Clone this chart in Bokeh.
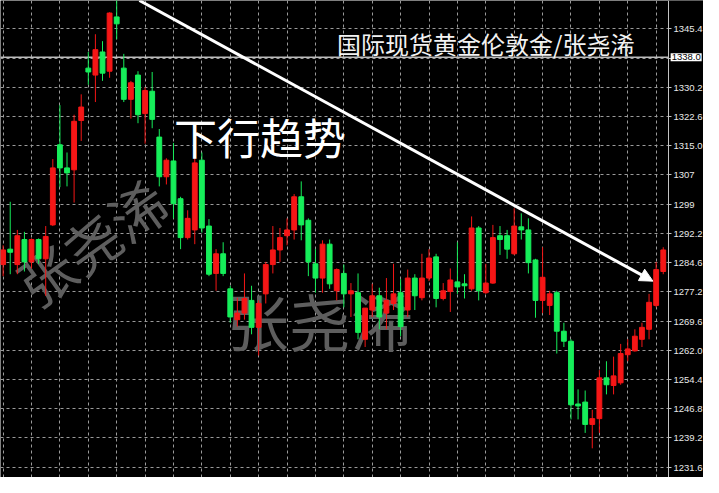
import numpy as np
from bokeh.plotting import figure
from bokeh.models import (Range1d, FixedTicker, Span, Label, Arrow, NormalHead,
                          ColumnDataSource, BoxAnnotation)
from bokeh.core.properties import value
from bokeh.embed import file_html
from bokeh.resources import INLINE

# ---- data ----
opens = [1284.2, 1288.2, 1284.2, 1290.7, 1284.9, 1290.7, 1285.7, 1294.5, 1315.3, 1309.3,
         1308.8, 1321.6, 1335.2, 1333.4, 1339.4, 1334.4, 1348.5, 1335.2, 1327.1, 1333.4,
         1323.4, 1329.2, 1317.3, 1307.0, 1311.1, 1301.3, 1291.2, 1293.2, 1311.3, 1294.2,
         1281.9, 1287.0, 1277.9, 1269.9, 1271.6, 1274.9, 1267.9, 1276.6, 1284.2, 1288.0,
         1291.7, 1293.2, 1301.8, 1295.7, 1284.4, 1280.7, 1289.5, 1277.4, 1281.9, 1276.6,
         1276.9, 1264.8, 1272.4, 1276.1, 1271.6, 1274.1, 1276.9, 1272.4, 1280.7, 1275.6,
         1280.7, 1286.2, 1275.4, 1277.2, 1279.7, 1279.2, 1277.9, 1293.7, 1276.9, 1279.4,
         1291.7, 1291.7, 1287.0, 1294.0, 1293.2, 1285.4, 1274.9, 1273.6, 1276.9, 1266.9,
         1264.3, 1248.0, 1248.5, 1242.7, 1244.2, 1254.8, 1252.8, 1253.5, 1260.8, 1261.8,
         1264.8, 1267.4, 1273.6, 1282.4]
highs = [1289.2, 1300.5, 1293.2, 1292.7, 1291.0, 1291.0, 1294.2, 1311.6, 1325.6, 1313.3,
         1323.1, 1328.4, 1339.4, 1344.0, 1342.2, 1349.7, 1354.0, 1338.9, 1331.9, 1334.4,
         1330.2, 1334.2, 1319.4, 1311.8, 1315.8, 1301.8, 1298.3, 1311.8, 1313.3, 1296.0,
         1288.2, 1290.0, 1278.7, 1275.6, 1281.9, 1278.7, 1274.9, 1284.9, 1294.2, 1293.7,
         1296.2, 1302.5, 1305.8, 1296.2, 1288.2, 1290.5, 1290.7, 1283.2, 1284.2, 1279.4,
         1281.9, 1272.9, 1279.2, 1278.2, 1280.7, 1284.4, 1280.4, 1282.9, 1281.7, 1287.0,
         1288.2, 1287.0, 1279.4, 1283.2, 1290.0, 1281.7, 1296.7, 1294.2, 1284.4, 1294.5,
         1294.2, 1293.2, 1298.8, 1297.5, 1296.2, 1285.7, 1288.7, 1277.4, 1277.4, 1269.1,
         1264.8, 1251.8, 1251.5, 1246.5, 1256.8, 1259.1, 1260.3, 1263.6, 1264.8, 1267.4,
         1269.1, 1276.6, 1284.9, 1288.7]
lows = [1281.2, 1281.7, 1281.7, 1282.4, 1283.2, 1284.4, 1276.1, 1294.2, 1304.3, 1304.5,
        1300.3, 1316.3, 1330.9, 1326.4, 1331.9, 1332.7, 1342.7, 1326.4, 1322.1, 1320.9,
        1315.6, 1319.6, 1304.5, 1305.0, 1296.2, 1288.2, 1290.7, 1289.5, 1292.5, 1281.2,
        1277.4, 1281.2, 1269.1, 1268.1, 1269.9, 1266.1, 1260.6, 1274.1, 1281.9, 1284.9,
        1289.2, 1290.7, 1290.5, 1281.2, 1276.9, 1276.9, 1277.9, 1274.9, 1273.1, 1270.6,
        1264.8, 1262.8, 1270.6, 1267.4, 1267.4, 1272.4, 1265.6, 1270.6, 1272.4, 1274.9,
        1279.9, 1273.1, 1274.9, 1271.9, 1276.6, 1275.4, 1277.4, 1274.9, 1276.6, 1279.2,
        1286.7, 1285.7, 1286.7, 1290.7, 1281.9, 1270.4, 1271.6, 1271.1, 1261.1, 1262.8,
        1244.0, 1244.0, 1240.5, 1236.5, 1240.5, 1250.5, 1250.5, 1253.0, 1259.1, 1261.6,
        1262.8, 1264.8, 1273.1, 1281.7]
closes = [1288.0, 1287.4, 1291.7, 1284.9, 1290.7, 1285.7, 1291.5, 1309.3, 1309.3, 1308.0,
          1321.4, 1325.1, 1334.2, 1340.0, 1333.9, 1349.5, 1346.7, 1327.1, 1331.4, 1323.1,
          1329.4, 1321.9, 1307.0, 1311.3, 1300.0, 1291.2, 1296.2, 1310.6, 1293.7, 1281.7,
          1287.0, 1281.9, 1270.6, 1271.6, 1275.4, 1267.9, 1274.1, 1284.2, 1288.0, 1291.2,
          1293.2, 1301.8, 1294.5, 1284.9, 1280.7, 1289.5, 1279.2, 1282.9, 1276.6, 1277.4,
          1266.6, 1272.9, 1276.1, 1270.6, 1274.9, 1276.6, 1268.1, 1280.7, 1276.1, 1280.7,
          1285.9, 1275.4, 1277.4, 1280.2, 1278.4, 1278.7, 1293.7, 1277.4, 1279.4, 1291.2,
          1290.7, 1288.2, 1294.2, 1293.2, 1284.7, 1274.9, 1280.9, 1276.6, 1266.9, 1264.3,
          1247.8, 1247.5, 1242.7, 1244.2, 1254.8, 1253.0, 1255.3, 1261.1, 1262.3, 1265.6,
          1267.9, 1274.4, 1282.9, 1288.0]

tick_labels = ["1231.6", "1239.2", "1246.8", "1254.4", "1262.0", "1269.6", "1277.2", "1284.6",
               "1292.2", "1299", "1307", "1315.0", "1322.6", "1330.2", "1338.0", "1345.4"]
tick_low, tick_high = 1231.6, 1345.4
marker_price = 1338.0
marker_label = "1338.0"

title_text = "国际现货黄金伦敦金/张尧浠"
trend_text = "下行趋势"
watermark_text = "张尧浠"

trend_start = (19.2, 1352.76)
trend_end = (91.55, 1279.9)

# ---- styling ----
RED = "#f51616"
GREEN = "#16ee5a"
GRID = "#9a9a9a"
AXIS = "#c4c4c4"

n = len(opens)
idx = np.arange(n)
o = np.array(opens)
c = np.array(closes)
colors = [RED if cc >= oo else GREEN for oo, cc in zip(opens, closes)]
src = ColumnDataSource(dict(x=idx, h=highs, l=lows, top=np.maximum(o, c),
                            bottom=np.minimum(o, c), color=colors))

x_lo, axis_x, x_hi = -0.37, 93.74, 98.67
p = figure(width=703, height=477,
           x_range=Range1d(x_lo, x_hi), y_range=Range1d(1228.92, 1352.76),
           x_axis_location=None, y_axis_location="right",
           output_backend="svg", toolbar_location=None,
           background_fill_color="black", border_fill_color="black",
           outline_line_color=None,
           min_border_left=0, min_border_top=0, min_border_bottom=0, min_border_right=0)

# grids
p.xgrid.ticker = FixedTicker(ticks=list(range(0, n, 4)))
p.xgrid.grid_line_color = GRID
p.xgrid.grid_line_dash = "3 3"
p.xgrid.grid_line_width = 1
tick_pos = list(np.linspace(tick_low, tick_high, len(tick_labels)))
p.yaxis.ticker = FixedTicker(ticks=tick_pos)
overrides = {}
for pos, lab in zip(tick_pos, tick_labels):
    overrides[pos] = " " if lab == marker_label else lab
p.yaxis.major_label_overrides = overrides
p.ygrid.grid_line_color = GRID
p.ygrid.grid_line_dash = "3 3"
p.ygrid.grid_line_width = 1

ax = p.yaxis[0]
ax.fixed_location = axis_x
ax.axis_line_color = AXIS
ax.major_tick_line_color = AXIS
ax.major_tick_out = 3
ax.major_tick_in = 0
ax.minor_tick_out = 0
ax.minor_tick_in = 0
ax.major_label_text_color = "#e8e8e8"
ax.major_label_text_font = "Liberation Sans"
ax.major_label_text_font_size = "9.5px"
ax.major_label_standoff = 2

# horizontal price line
p.add_layout(Span(location=marker_price, dimension="width", line_color="#bcbcbc",
                  line_width=1.5, level="underlay"))
# plain black strip where the price scale sits
p.add_layout(BoxAnnotation(left=axis_x, fill_color="black", fill_alpha=1.0,
                           line_color=None, level="underlay"))

# watermarks
p.text(x=[12.4], y=[1290.2], text=[watermark_text], angle=0.62,
       text_font=value("Noto Sans CJK SC"), text_font_size="56px",
       text_color="#5e5e5e", text_align="center", text_baseline="middle")
p.text(x=[44.6], y=[1269.9], text=[watermark_text],
       text_font=value("Noto Sans CJK SC"), text_font_size="62px",
       text_color="#5e5e5e", text_align="center", text_baseline="middle")

# candles
p.segment(x0="x", y0="h", x1="x", y1="l", color="color", line_width=1, source=src)
p.vbar(x="x", top="top", bottom="bottom", width=0.68, fill_color="color",
       line_color="color", line_width=1, source=src)

# texts
p.text(x=[68.0], y=[1341.5], text=[title_text],
       text_font=value("Noto Sans CJK SC"), text_font_size="24px",
       text_color="#f2f2f2", text_align="center", text_baseline="middle")
p.text(x=[36.2], y=[1317.6], text=[trend_text],
       text_font=value("Noto Sans CJK SC"), text_font_size="43px",
       text_color="#ffffff", text_align="center", text_baseline="middle")

# trend arrow
p.add_layout(Arrow(end=NormalHead(size=13, fill_color="white", line_color="white"),
                   x_start=trend_start[0], y_start=trend_start[1],
                   x_end=trend_end[0], y_end=trend_end[1],
                   line_color="white", line_width=3))

# current price marker box on the price scale
marker = Label(x=axis_x + 0.3, y=marker_price, text=marker_label,
               text_font="Liberation Sans", text_font_size="9.5px",
               text_color="black", text_align="left", text_baseline="middle",
               background_fill_color="white")
try:
    marker.padding = 1
except Exception:
    pass
p.add_layout(marker)

html = file_html(p, INLINE, title="chart")
html = html.replace("<body>", '<body style="background-color:#000000;">', 1)
open("out.html", "w").write(html)
